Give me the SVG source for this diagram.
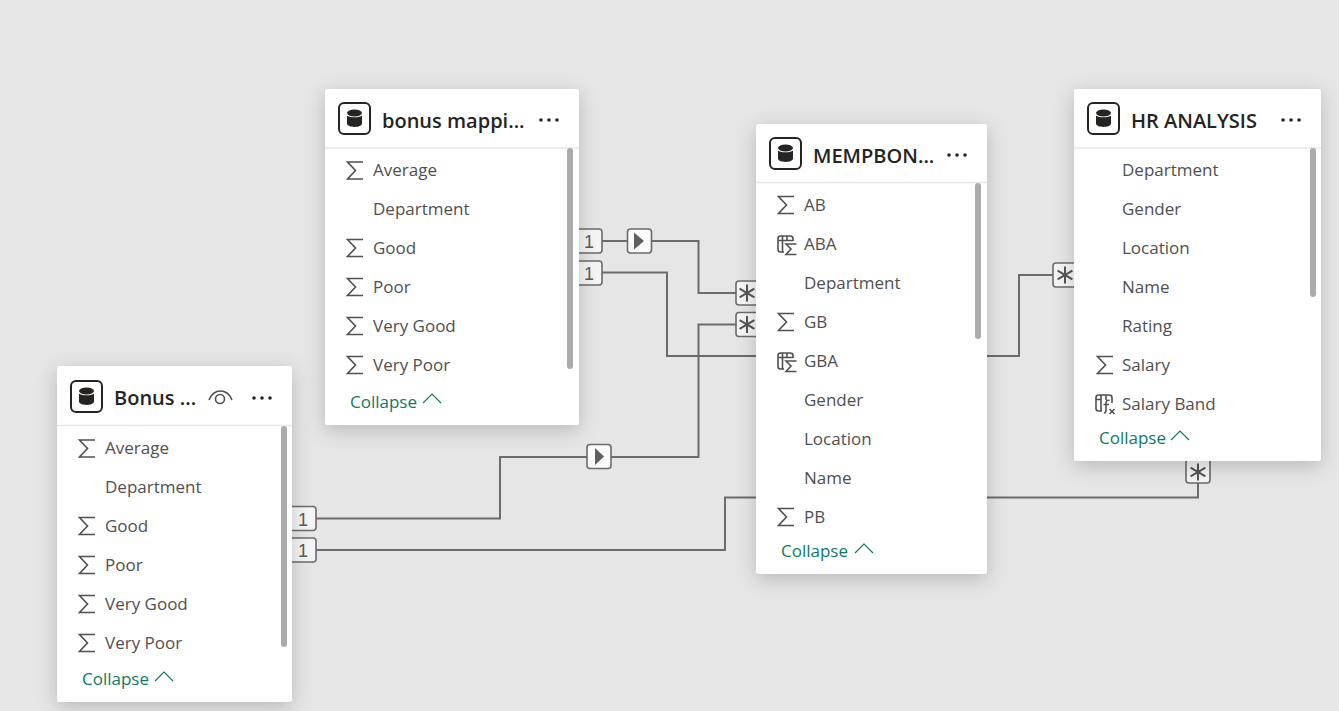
<svg xmlns="http://www.w3.org/2000/svg" width="1339" height="711" viewBox="0 0 1339 711">
<style>
text{font-family:"Open Sans","Noto Sans","Liberation Sans",sans-serif}
.card{fill:#fff;filter:url(#sh)}
.sep{stroke:#e8e8e8;stroke-width:1.5;fill:none}
.bar{fill:#ababab}
.title{font-size:20px;font-weight:600;fill:#252423}
.row{font-size:17px;fill:#505050}
.col{font-size:17px;fill:#117865}
.ic{fill:none;stroke:#505050;stroke-width:1.6}
.chev{fill:none;stroke:#117865;stroke-width:1.2}
.dot{fill:#252423}
.conn{fill:none;stroke:#6b6b6b;stroke-width:2}
.bdg{fill:#f5f5f5;stroke:#6b6b6b;stroke-width:1.6}
.bdgw{fill:#fbfbfb;stroke:#6b6b6b;stroke-width:1.6}
.one{font-size:18px;fill:#5a5a5a;text-anchor:middle;font-family:"Liberation Sans",sans-serif}
.tri{fill:#5f5f5f}
.star{stroke:#555;stroke-width:2;fill:none}
</style>
<defs>
<filter id="sh" x="-25%" y="-25%" width="150%" height="150%"><feDropShadow dx="0" dy="5" stdDeviation="10" flood-color="#000" flood-opacity=".2"/></filter>
<g id="db"><rect x="1" y="1" width="31" height="31" rx="5" fill="#fff" stroke="#252423" stroke-width="2"/><ellipse cx="16.500" cy="11" rx="7.500" ry="3.500" fill="#252423"/><path d="M9 13.500c1.500 2.400 13.500 2.400 15 0V21.500c0 4.500-15 4.500-15 0Z" fill="#252423"/></g>
<path id="sig" class="ic" d="M17 1H1.500L9.500 9.500 1.500 18H17"/>
<g id="calc"><path class="ic" stroke-width="1.200" d="M7 17H3.500Q1 17 1 14.500V3.500Q1 1 3.500 1H13Q16 1 16 3.500V6M5.500 1V17M10 1V6M1 5.500H16"/><path d="M7.500 8H21V20H7.500Z" fill="#fff"/><path class="ic" d="M19.500 9H9L14 14 9 19.500H19.500"/></g>
<g id="fx"><path class="ic" stroke-width="1.200" d="M7 17H3.500Q1 17 1 14.500V3.500Q1 1 3.500 1H14Q17 1 17 3.500V9M6 1V17M11 1V6M1 5.500H6"/><path class="ic" stroke-width="1.300" d="M14.500 6.500Q11 5.500 11 9V15.500Q11 19 9 19M8.500 10.500H14M14.500 15L19.500 20M19.500 15L14.500 20"/></g>
<g id="dots"><circle cx="2" cy="2" r="1.800" class="dot"/><circle cx="10" cy="2" r="1.800" class="dot"/><circle cx="18" cy="2" r="1.800" class="dot"/></g>
<g id="st"><path class="star" d="M0-8.500V8.500M-7.400-4.300L7.400 4.300M-7.400 4.300L7.400-4.300"/></g>
<path id="ch" class="chev" d="M0 9L9 0 18 9"/>
</defs>
<rect width="1339" height="711" fill="#e6e6e6"/>

<g id="connectors">
<path class="conn" d="M602 241H698.500V293H740"/>
<path class="conn" d="M602 272.500H667V356H760"/>
<path class="conn" d="M316 518.500H500V457H698.500V324.500H740"/>
<path class="conn" d="M316 550H725V497.500H760"/>
<path class="conn" d="M985 356H1019V275H1056"/>
<path class="conn" d="M985 497.500H1198V480"/>
<rect class="bdg" x="575" y="229" width="27" height="24" rx="3"/><text class="one" x="589" y="248">1</text>
<rect class="bdg" x="575" y="261" width="27" height="24" rx="3"/><text class="one" x="589" y="280">1</text>
<rect class="bdgw" x="627.500" y="229" width="24" height="24" rx="3"/><path class="tri" d="M634 232.500L644 241 634 249.500Z"/>
<rect class="bdg" x="736" y="281" width="28" height="24" rx="3"/><use href="#st" x="747" y="293"/>
<rect class="bdg" x="736" y="312.500" width="28" height="24" rx="3"/><use href="#st" x="747" y="324.500"/>
<rect class="bdg" x="1053" y="263" width="28" height="24" rx="3"/><use href="#st" x="1065" y="275"/>
<rect class="bdg" x="1186" y="455" width="24" height="28" rx="3"/><use href="#st" x="1198" y="472"/>
<rect class="bdg" x="288" y="506.500" width="28" height="24" rx="3"/><text class="one" x="303" y="525.500">1</text>
<rect class="bdg" x="288" y="538" width="28" height="24" rx="3"/><text class="one" x="303" y="557">1</text>
<rect class="bdgw" x="587" y="444.500" width="24" height="24" rx="3"/><path class="tri" d="M595 448L604 456.500 595 465Z"/>
</g>

<g id="node-bonus-mapping">
<rect class="card" x="325" y="89" width="254" height="336" rx="3"/>
<path class="sep" d="M325 148H579"/>
<rect class="bar" x="567" y="148" width="6" height="221" rx="3"/>
<use href="#db" x="338" y="102"/>
<text class="title" x="382" y="128">bonus mappi...</text>
<use href="#dots" x="539" y="118"/>
<use href="#sig" x="346" y="161"/><text class="row" x="373" y="176">Average</text>
<text class="row" x="373" y="215">Department</text>
<use href="#sig" x="346" y="238.500"/><text class="row" x="373" y="254">Good</text>
<use href="#sig" x="346" y="277.500"/><text class="row" x="373" y="293">Poor</text>
<use href="#sig" x="346" y="316.500"/><text class="row" x="373" y="332">Very Good</text>
<use href="#sig" x="346" y="355.500"/><text class="row" x="373" y="371">Very Poor</text>
<text class="col" x="350" y="408">Collapse</text><use href="#ch" x="423" y="394"/>
</g>

<g id="node-mempbon">
<rect class="card" x="756" y="124" width="231" height="450" rx="3"/>
<path class="sep" d="M756 182.500H987"/>
<rect class="bar" x="975" y="183" width="6" height="156" rx="3"/>
<use href="#db" x="769" y="137"/>
<text class="title" x="813" y="163">MEMPBON...</text>
<use href="#dots" x="947" y="153"/>
<use href="#sig" x="777" y="195.500"/><text class="row" x="804" y="211">AB</text>
<use href="#calc" x="777" y="235"/><text class="row" x="804" y="250">ABA</text>
<text class="row" x="804" y="289">Department</text>
<use href="#sig" x="777" y="312.500"/><text class="row" x="804" y="328">GB</text>
<use href="#calc" x="777" y="352"/><text class="row" x="804" y="367">GBA</text>
<text class="row" x="804" y="406">Gender</text>
<text class="row" x="804" y="445">Location</text>
<text class="row" x="804" y="484">Name</text>
<use href="#sig" x="777" y="507.500"/><text class="row" x="804" y="523">PB</text>
<text class="col" x="781" y="557">Collapse</text><use href="#ch" x="855" y="544"/>
</g>

<g id="node-hr-analysis">
<rect class="card" x="1074" y="89" width="247" height="372" rx="3"/>
<path class="sep" d="M1074 148H1321"/>
<rect class="bar" x="1310" y="148" width="6" height="149" rx="3"/>
<use href="#db" x="1087" y="102"/>
<text class="title" x="1131" y="128">HR ANALYSIS</text>
<use href="#dots" x="1281" y="118"/>
<text class="row" x="1122" y="176">Department</text>
<text class="row" x="1122" y="215">Gender</text>
<text class="row" x="1122" y="254">Location</text>
<text class="row" x="1122" y="293">Name</text>
<text class="row" x="1122" y="332">Rating</text>
<use href="#sig" x="1096" y="355.500"/><text class="row" x="1122" y="371">Salary</text>
<use href="#fx" x="1095" y="394"/><text class="row" x="1122" y="410">Salary Band</text>
<text class="col" x="1099" y="444">Collapse</text><use href="#ch" x="1171" y="431"/>
</g>

<g id="node-bonus">
<rect class="card" x="57" y="366" width="235" height="336" rx="3"/>
<path class="sep" d="M57 425.500H292"/>
<rect class="bar" x="281" y="426" width="6" height="221" rx="3"/>
<use href="#db" x="70" y="380"/>
<text class="title" x="114" y="405">Bonus ...</text>
<path class="ic" stroke="#252423" d="M209 400C214 388 227 388 232 400"/><circle class="ic" cx="220" cy="399" r="4.500"/>
<use href="#dots" x="252" y="396"/>
<use href="#sig" x="78" y="439"/><text class="row" x="105" y="454">Average</text>
<text class="row" x="105" y="493">Department</text>
<use href="#sig" x="78" y="516.500"/><text class="row" x="105" y="532">Good</text>
<use href="#sig" x="78" y="555.500"/><text class="row" x="105" y="571">Poor</text>
<use href="#sig" x="78" y="594.500"/><text class="row" x="105" y="610">Very Good</text>
<use href="#sig" x="78" y="633.500"/><text class="row" x="105" y="649">Very Poor</text>
<text class="col" x="82" y="685">Collapse</text><use href="#ch" x="155" y="672"/>
</g>
</svg>
